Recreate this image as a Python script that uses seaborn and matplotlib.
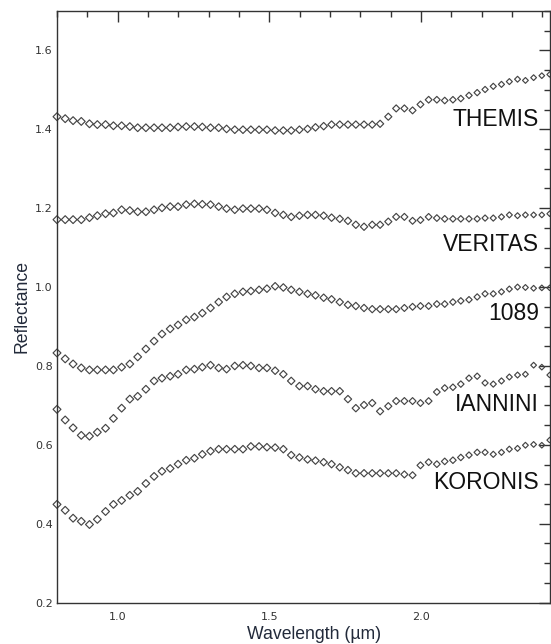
import matplotlib
matplotlib.use("Agg")
import matplotlib.pyplot as plt
import numpy as np
import pandas as pd
import seaborn as sns
from matplotlib.ticker import MultipleLocator

# wavelength grid (um)
wavelength = [0.800, 0.827, 0.853, 0.880, 0.907, 0.933, 0.960, 0.986, 1.013, 1.040,
              1.066, 1.093, 1.120, 1.146, 1.173, 1.199, 1.226, 1.253, 1.279, 1.306,
              1.333, 1.359, 1.386, 1.413, 1.439, 1.466, 1.492, 1.519, 1.546, 1.572,
              1.599, 1.626, 1.652, 1.679, 1.705, 1.732, 1.759, 1.785, 1.812, 1.839,
              1.865, 1.892, 1.918, 1.945, 1.972, 1.998, 2.025, 2.052, 2.078, 2.105,
              2.131, 2.158, 2.185, 2.211, 2.238, 2.265, 2.291, 2.318, 2.344, 2.371,
              2.398, 2.424]

themis = [1.432, 1.427, 1.422, 1.420, 1.414, 1.412, 1.412, 1.409, 1.409, 1.407,
          1.404, 1.404, 1.404, 1.404, 1.404, 1.406, 1.407, 1.407, 1.406, 1.404,
          1.404, 1.401, 1.399, 1.399, 1.399, 1.399, 1.399, 1.397, 1.397, 1.397,
          1.399, 1.401, 1.405, 1.408, 1.412, 1.412, 1.412, 1.412, 1.412, 1.412,
          1.414, 1.432, 1.453, 1.453, 1.448, 1.463, 1.475, 1.475, 1.473, 1.475,
          1.478, 1.486, 1.493, 1.501, 1.509, 1.514, 1.521, 1.527, 1.524, 1.531,
          1.536, 1.539]

veritas = [1.171, 1.171, 1.171, 1.171, 1.176, 1.181, 1.186, 1.188, 1.196, 1.194,
           1.191, 1.191, 1.196, 1.201, 1.204, 1.204, 1.209, 1.211, 1.210, 1.209,
           1.204, 1.199, 1.196, 1.199, 1.199, 1.199, 1.196, 1.188, 1.183, 1.178,
           1.181, 1.183, 1.183, 1.181, 1.176, 1.173, 1.168, 1.158, 1.153, 1.158,
           1.158, 1.166, 1.178, 1.178, 1.168, 1.170, 1.178, 1.175, 1.173, 1.173,
           1.173, 1.173, 1.173, 1.175, 1.175, 1.178, 1.183, 1.181, 1.183, 1.183,
           1.183, 1.186]

ast_1089 = [0.833, 0.818, 0.805, 0.795, 0.790, 0.790, 0.790, 0.790, 0.797, 0.805,
            0.823, 0.843, 0.863, 0.881, 0.894, 0.904, 0.917, 0.924, 0.934, 0.947,
            0.962, 0.975, 0.983, 0.988, 0.990, 0.993, 0.996, 1.002, 0.999, 0.993,
            0.988, 0.983, 0.979, 0.973, 0.969, 0.962, 0.955, 0.952, 0.947, 0.944,
            0.944, 0.944, 0.944, 0.947, 0.950, 0.952, 0.952, 0.957, 0.957, 0.962,
            0.965, 0.968, 0.975, 0.983, 0.983, 0.988, 0.995, 1.000, 0.999, 0.997,
            0.998, 0.998]

iannini = [0.690, 0.663, 0.643, 0.624, 0.622, 0.632, 0.642, 0.667, 0.693, 0.716,
           0.723, 0.741, 0.762, 0.769, 0.774, 0.779, 0.790, 0.792, 0.797, 0.802,
           0.795, 0.792, 0.800, 0.802, 0.800, 0.795, 0.795, 0.788, 0.779, 0.762,
           0.749, 0.749, 0.741, 0.736, 0.736, 0.736, 0.716, 0.693, 0.701, 0.706,
           0.685, 0.698, 0.711, 0.711, 0.711, 0.706, 0.711, 0.734, 0.744, 0.746,
           0.754, 0.769, 0.774, 0.757, 0.754, 0.762, 0.772, 0.777, 0.779, 0.802,
           0.797, 0.777]

koronis = [0.449, 0.434, 0.414, 0.406, 0.398, 0.411, 0.431, 0.449, 0.459, 0.472,
           0.482, 0.502, 0.520, 0.533, 0.540, 0.551, 0.561, 0.566, 0.576, 0.584,
           0.589, 0.589, 0.589, 0.589, 0.596, 0.596, 0.594, 0.593, 0.589, 0.574,
           0.568, 0.563, 0.560, 0.556, 0.551, 0.543, 0.536, 0.528, 0.528, 0.528,
           0.528, 0.528, 0.528, 0.525, 0.523, 0.548, 0.556, 0.551, 0.558, 0.561,
           0.568, 0.574, 0.581, 0.581, 0.576, 0.581, 0.589, 0.591, 0.599, 0.601,
           0.599, 0.612]

series_names = ["THEMIS", "VERITAS", "1089", "IANNINI", "KORONIS"]
series_values = [themis, veritas, ast_1089, iannini, koronis]
label_y = [1.425, 1.108, 0.932, 0.703, 0.505]

sns.set_style("white")
plt.rcParams["font.family"] = ["Liberation Sans", "DejaVu Sans"]

fig = plt.figure(figsize=(5.51, 6.44), dpi=100)
ax = fig.add_axes([57 / 551, 41.4 / 644, 493 / 551, 591.6 / 644])

wl = np.array(wavelength)
# markers get a bit smaller towards the long-wavelength end, as in the original
marker_sizes = np.interp(wl, [0.8, 1.8, 2.42], [16, 14, 8])

for name, vals in zip(series_names, series_values):
    df = pd.DataFrame({"wavelength": wl, "reflectance": vals})
    sns.scatterplot(data=df, x="wavelength", y="reflectance", ax=ax,
                    marker="D", s=marker_sizes, facecolor="none",
                    edgecolor="#454545", linewidth=0.85, legend=False,
                    clip_on=False)

for name, yv in zip(series_names, label_y):
    ax.text(2.389, yv, name, ha="right", va="center", fontsize=16.5,
            color="#111111")

ax.set_xlim(0.8, 2.425)
ax.set_ylim(0.2, 1.7)
ax.xaxis.set_major_locator(MultipleLocator(0.5))
ax.xaxis.set_minor_locator(MultipleLocator(0.1))
ax.yaxis.set_major_locator(MultipleLocator(0.2))
ax.yaxis.set_minor_locator(MultipleLocator(0.05))
ax.xaxis.set_major_formatter(plt.FormatStrFormatter("%.1f"))
ax.yaxis.set_major_formatter(plt.FormatStrFormatter("%.1f"))

ax.tick_params(which="both", direction="in", top=True, right=True,
               color="#333333", width=1.0)
ax.tick_params(which="major", length=8)
ax.tick_params(which="minor", length=4.5)
ax.tick_params(axis="x", which="major", pad=7)
ax.tick_params(axis="y", which="major", pad=3)
for lbl in ax.get_xticklabels() + ax.get_yticklabels():
    lbl.set_fontfamily("DejaVu Sans")
    lbl.set_fontsize(8)
    lbl.set_color("#333333")

for sp in ax.spines.values():
    sp.set_color("#333333")
    sp.set_linewidth(1.0)

ax.set_xlabel("Wavelength (µm)", fontsize=12.7, color="#222a3a")
ax.set_ylabel("Reflectance", fontsize=12.7, color="#222a3a")
ax.xaxis.set_label_coords(0.521, -0.039)
ax.yaxis.set_label_coords(-0.053, 0.5)
ax.xaxis.label.set_va("top")

fig.savefig("out.png", dpi=100)
